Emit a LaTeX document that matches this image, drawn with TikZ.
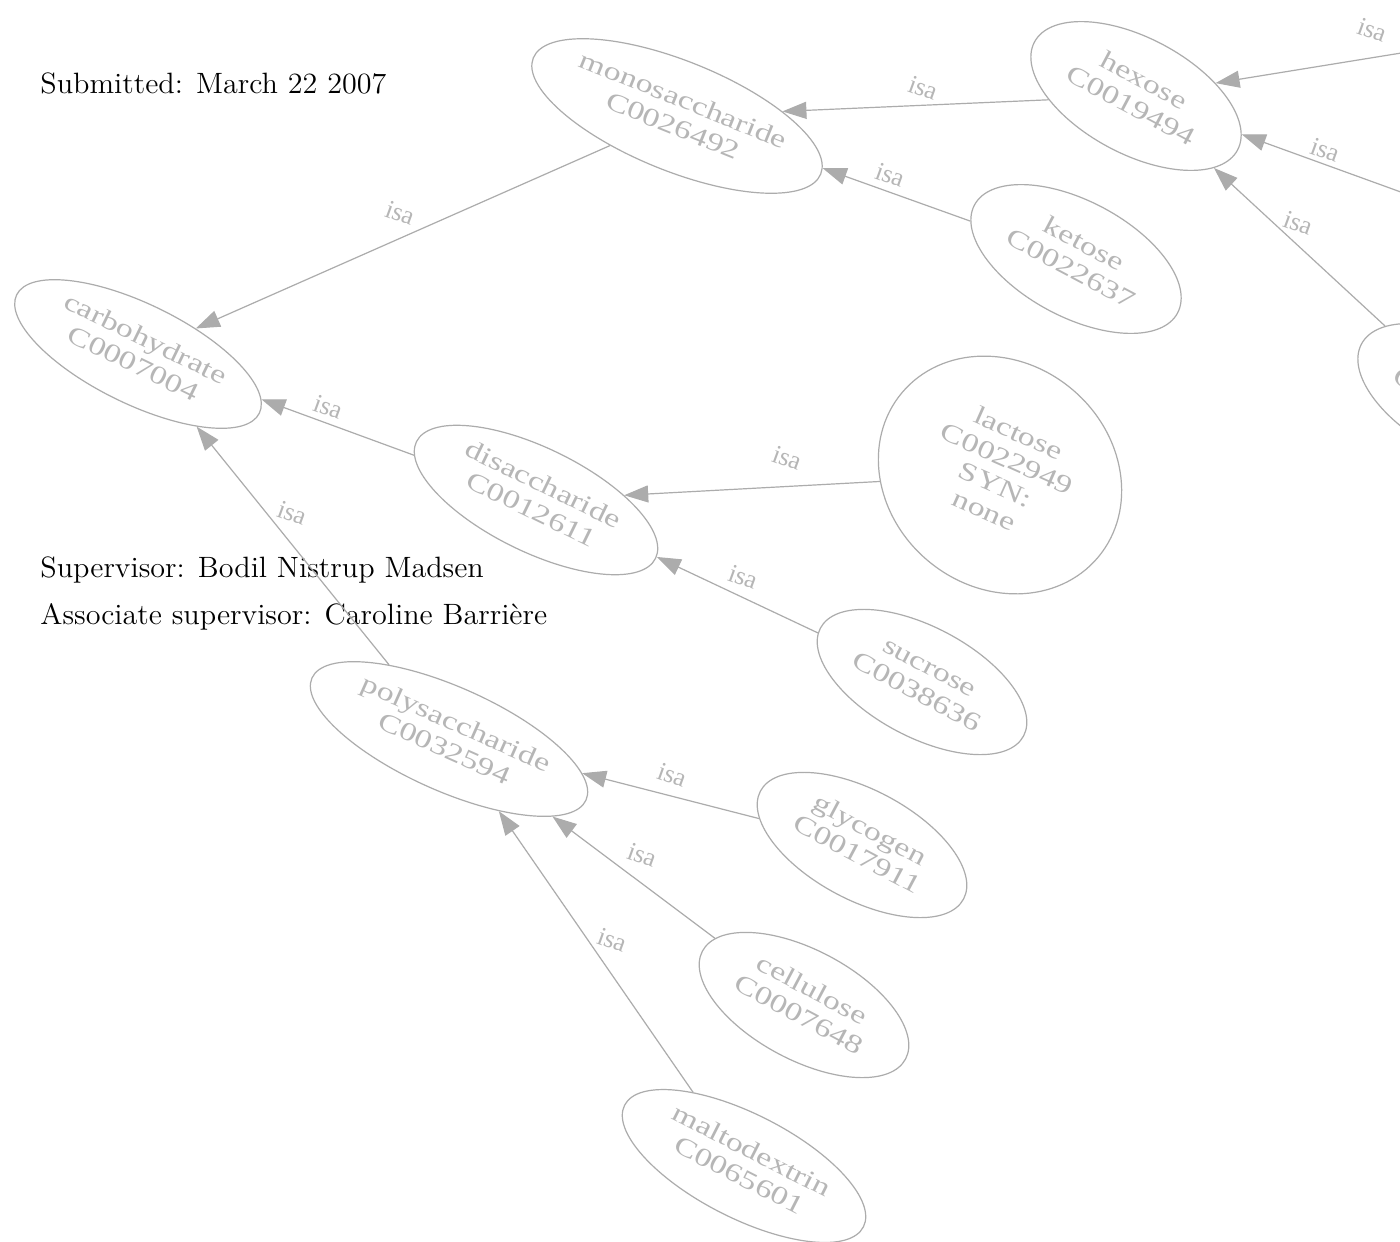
\documentclass[tikz,border=0pt]{standalone}
\usepackage{fontspec}
\usetikzlibrary{shapes.geometric,arrows.meta}
\newfontfamily\nodefont{Liberation Serif}
\definecolor{gline}{RGB}{172,172,172}
\definecolor{gtext}{RGB}{182,182,182}
\newcommand\lbl[1]{\makebox[0pt]{\smash{\raisebox{-3pt}{\scalebox{1}[0.76]{\begin{tabular}{@{}c@{}}#1\end{tabular}}}}}}
\newcommand\hdrtxt[1]{\scalebox{1.025}[1]{#1}}
\tikzset{
  x=0.5pt, y=-0.5pt,
  nd/.style={ellipse, draw=gline, line width=0.6pt, text=gtext, inner sep=0pt,
    font=\nodefont\fontsize{17}{18.5}\selectfont},
  edge/.style={draw=gline, line width=0.6pt, -{Triangle[length=12pt,width=8.5pt]}},
  isa/.style={text=gtext, inner sep=0pt, rotate=-20, font=\nodefont\fontsize{13}{13}\selectfont},
  hdr/.style={anchor=base west, inner sep=0pt, font=\fontsize{14.7}{17}\selectfont}
}
\begin{document}
\begin{tikzpicture}
\useasboundingbox (0,0) rectangle (1400,1241);
\fill[white] (0,0) rectangle (1400,1241);
\clip (0,0) rectangle (1400,1241);

% header texts
\node[hdr] (sub) at (40,94) {\hdrtxt{Submitted: March 22 2007}};
\node[hdr] (sup) at (40,577) {\hdrtxt{Supervisor: Bodil Nistrup Madsen}};
\node[hdr] (asup) at (40,624) {\hdrtxt{Associate supervisor: Caroline Barrière}};

% nodes
\node[nd, rotate=-22, minimum width=155pt, minimum height=55pt] (mono) at (677,116) {\lbl{monosaccharide\\C0026492}};
\node[nd, rotate=-28, minimum width=115pt, minimum height=58pt] (hex) at (1136,96) {\lbl{hexose\\C0019494}};
\node[nd, rotate=-28, minimum width=115pt, minimum height=58pt] (ket) at (1076,259) {\lbl{ketose\\C0022637}};
\node[nd, rotate=-26, minimum width=135pt, minimum height=50pt] (carb) at (138,354) {\lbl{carbohydrate\\C0007004}};
\node[nd, rotate=-26, minimum width=133pt, minimum height=52pt] (dis) at (536,500) {\lbl{disaccharide\\C0012611}};
\node[nd, rotate=-40, minimum width=128pt, minimum height=112pt] (lac) at (1000,475) {};
\node[text=gtext, rotate=-24, inner sep=0pt, font=\nodefont\fontsize{17}{18.5}\selectfont] (lact) at (lac.center) {\lbl{lactose\\C0022949\\SYN:\\none}};
\node[nd, rotate=-28, minimum width=115pt, minimum height=55pt] (suc) at (922,682) {\lbl{sucrose\\C0038636}};
\node[nd, rotate=-24, minimum width=150pt, minimum height=52pt] (poly) at (449,739) {\lbl{polysaccharide\\C0032594}};
\node[nd, rotate=-28, minimum width=115pt, minimum height=55pt] (gly) at (862,845) {\lbl{glycogen\\C0017911}};
\node[nd, rotate=-28, minimum width=115pt, minimum height=55pt] (cel) at (804,1005) {\lbl{cellulose\\C0007648}};
\node[nd, rotate=-27, minimum width=134pt, minimum height=52pt] (mal) at (744,1166) {\lbl{maltodextrin\\C0065601}};
\node[nd, rotate=-28, minimum width=115pt, minimum height=58pt] (part) at (1463,398) {\lbl{\\C\hphantom{0019494}}};

% off-canvas sources
\coordinate (src1) at (1500,37);
\coordinate (src2) at (1500,228);

% edges
\draw[edge] (mono) -- (carb);
\draw[edge] (hex) -- (mono);
\draw[edge] (ket) -- (mono);
\draw[edge] (dis) -- (carb);
\draw[edge] (poly) -- (carb);
\draw[edge] (lac) -- (dis);
\draw[edge] (suc) -- (dis);
\draw[edge] (gly) -- (poly);
\draw[edge] (cel) -- (poly);
\draw[edge] (mal) -- (poly);
\draw[edge] (part) -- (hex);
\draw[edge] (src1) -- (hex);
\draw[edge] (src2) -- (hex);

% edge labels
\node[isa] (i1) at (400,213) {isa};
\node[isa] (i2) at (923,88) {isa};
\node[isa] (i3) at (890,175) {isa};
\node[isa] (i4) at (328,407) {isa};
\node[isa] (i5) at (292,513) {isa};
\node[isa] (i6) at (787,458) {isa};
\node[isa] (i7) at (743,577) {isa};
\node[isa] (i8) at (672,775) {isa};
\node[isa] (i9) at (642,855) {isa};
\node[isa] (i10) at (612,940) {isa};
\node[isa] (i11) at (1372,30) {isa};
\node[isa] (i12) at (1325,150) {isa};
\node[isa] (i13) at (1298,223) {isa};
\end{tikzpicture}
\end{document}
